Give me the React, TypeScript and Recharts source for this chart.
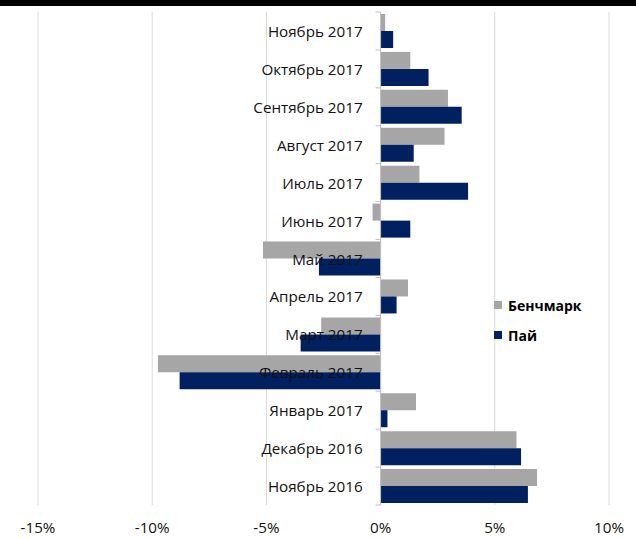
import React from "react";
import { BarChart, Bar, XAxis, YAxis, CartesianGrid, ReferenceLine } from "recharts";

const categories = [
  "Ноябрь 2017", "Октябрь 2017", "Сентябрь 2017", "Август 2017", "Июль 2017", "Июнь 2017",
  "Май 2017", "Апрель 2017", "Март 2017", "Февраль 2017", "Январь 2017", "Декабрь 2016", "Ноябрь 2016",
];
const benchmark = [0.2, 1.3, 2.95, 2.8, 1.7, -0.35, -5.15, 1.2, -2.6, -9.75, 1.55, 5.95, 6.85];
const fund = [0.55, 2.1, 3.55, 1.45, 3.83, 1.3, -2.7, 0.7, -3.5, -8.8, 0.3, 6.15, 6.45];
const xTicks = [-15, -10, -5, 0, 5, 10];
const seriesNames = ["Бенчмарк", "Пай"];

const data = categories.map((c, i) => ({ name: c, benchmark: benchmark[i], fund: fund[i] }));

const W = 636;
const H = 538;
const Y_AXIS_W = 1;
const M = { top: 12, right: 27, bottom: 0, left: 38 - Y_AXIS_W };
const X_AXIS_H = 33;
const X_MIN = -15;
const X_MAX = 10;
const plotLeft = M.left + Y_AXIS_W;
const plotW = W - plotLeft - M.right;
const plotH = H - M.top - M.bottom - X_AXIS_H;
const zeroX = plotLeft + (plotW * (0 - X_MIN)) / (X_MAX - X_MIN);
const band = plotH / categories.length;
const FONT = "'Open Sans', sans-serif";
const GRAY = "#A6A6A6";
const NAVY = "#002060";
const colors = [GRAY, NAVY];

const CatTick = (props: any) => {
  const { y, payload, index } = props;
  return (
    <g>
      <line x1={zeroX - 5} x2={zeroX} y1={y - band / 2} y2={y - band / 2} stroke="#BFBFBF" />
      {index === categories.length - 1 && (
        <line x1={zeroX - 5} x2={zeroX} y1={y + band / 2} y2={y + band / 2} stroke="#BFBFBF" />
      )}
      <text x={zeroX - 18} y={y} textAnchor="end" dominantBaseline="central" fontSize={15.2} fill="#111" fontFamily={FONT}>
        {payload.value}
      </text>
    </g>
  );
};

const ValTick = (props: any) => {
  const { x, y, payload } = props;
  return (
    <text x={x} y={y + 14} textAnchor="middle" dominantBaseline="central" fontSize={15.2} fill="#111" fontFamily={FONT}>
      {`${payload.value}%`}
    </text>
  );
};

export default function App() {
  return (
    <div style={{ position: "absolute", left: 0, top: 0, width: W, height: H, background: "#fff" }}>
      <BarChart
        width={W}
        height={H}
        data={data}
        layout="vertical"
        margin={M}
        barCategoryGap={2}
        barGap={0}
      >
        <CartesianGrid horizontal={false} vertical={true} stroke="#D9D9D9" />
        <Bar dataKey="benchmark" name={seriesNames[0]} fill={GRAY} isAnimationActive={false} />
        <Bar dataKey="fund" name={seriesNames[1]} fill={NAVY} isAnimationActive={false} />
        <ReferenceLine x={0} stroke="#BFBFBF" />
        <XAxis
          type="number"
          domain={[X_MIN, X_MAX]}
          ticks={xTicks}
          axisLine={false}
          tickLine={false}
          height={X_AXIS_H}
          tick={<ValTick />}
          interval={0}
        />
        <YAxis
          type="category"
          dataKey="name"
          width={Y_AXIS_W}
          axisLine={false}
          tickLine={false}
          tick={<CatTick />}
          interval={0}
        />
      </BarChart>
      <div style={{ position: "absolute", left: 494, top: 290, fontFamily: FONT }}>
        {seriesNames.map((n, i) => (
          <div key={n} style={{ display: "flex", alignItems: "center", height: 30 }}>
            <span style={{ width: 8, height: 8, background: colors[i], display: "inline-block", marginRight: 6 }} />
            <span style={{ fontWeight: 700, fontSize: 14, color: "#000" }}>{n}</span>
          </div>
        ))}
      </div>
      <div style={{ position: "absolute", left: 0, top: 0, width: W, height: 6, background: "#000" }} />
    </div>
  );
}
